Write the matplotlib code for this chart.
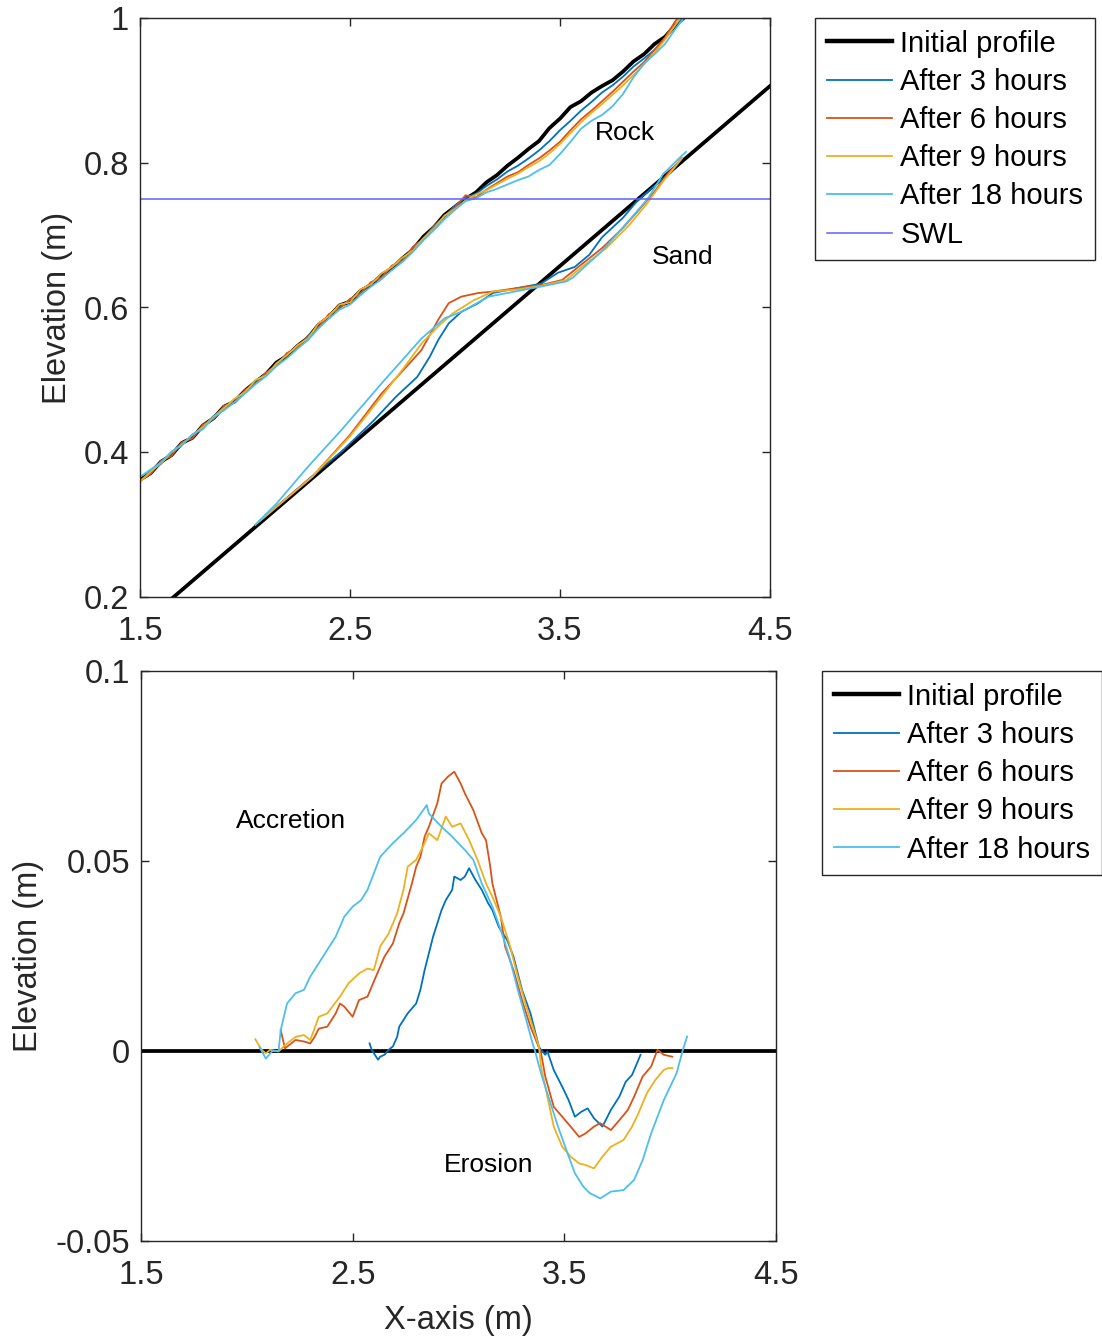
import matplotlib
matplotlib.use("Agg")
import matplotlib.pyplot as plt

plt.rcParams['font.family'] = ['Liberation Sans', 'DejaVu Sans']

# ---------------- data: top panel ----------------
rock_x = [1.50, 1.55, 1.60, 1.65, 1.70, 1.75, 1.80, 1.85, 1.90, 1.95,
          2.00, 2.05, 2.10, 2.15, 2.20, 2.25, 2.30, 2.35, 2.40, 2.45,
          2.50, 2.55, 2.60, 2.65, 2.70, 2.75, 2.80, 2.85, 2.90, 2.95,
          3.00, 3.05, 3.10, 3.15, 3.20, 3.25, 3.30, 3.35, 3.40, 3.45,
          3.50, 3.55, 3.60, 3.65, 3.70, 3.75, 3.80, 3.85, 3.90, 3.95,
          4.00, 4.05, 4.10]
rock_initial = [.362, .371, .387, .396, .413, .420, .437, .447, .463, .470,
                .485, .497, .508, .524, .533, .547, .558, .576, .587, .603,
                .608, .623, .631, .645, .654, .668, .680, .698, .711, .728,
                .739, .750, .759, .773, .783, .796, .807, .819, .830, .848,
                .861, .877, .885, .897, .906, .914, .926, .940, .950, .964,
                .974, .990, 1.003]
rock_3h = [.360, .374, .384, .399, .410, .423, .434, .450, .460, .473,
           .482, .499, .507, .521, .536, .544, .561, .573, .590, .600,
           .611, .620, .634, .642, .657, .665, .683, .695, .713, .725,
           .741, .752, .757, .768, .777, .788, .796, .806, .817, .830,
           .845, .858, .872, .884, .897, .907, .919, .933, .944, .956,
           .972, .990, 1.006]
rock_6h = [.361, .370, .388, .395, .414, .419, .438, .446, .464, .469,
           .486, .495, .510, .520, .537, .545, .560, .572, .591, .598,
           .612, .619, .635, .641, .658, .664, .684, .694, .712, .726,
           .738, .755, .752, .763, .772, .781, .787, .797, .806, .817,
           .829, .845, .860, .872, .885, .898, .912, .926, .939, .956,
           .973, .996, 1.012]
rock_9h = [.359, .373, .385, .400, .411, .424, .435, .449, .461, .474,
           .483, .500, .506, .523, .534, .548, .557, .578, .588, .604,
           .607, .625, .632, .647, .656, .669, .679, .696, .709, .727,
           .736, .748, .756, .762, .770, .778, .785, .794, .802, .813,
           .826, .841, .856, .869, .881, .894, .907, .921, .936, .952,
           .970, .991, 1.010]
rock_18h = [.366, .376, .386, .401, .410, .425, .432, .448, .458, .469,
            .481, .494, .505, .519, .530, .543, .555, .571, .585, .597,
            .604, .617, .629, .639, .652, .663, .677, .693, .707, .722,
            .735, .747, .751, .759, .764, .770, .776, .781, .790, .797,
            .812, .829, .847, .858, .866, .878, .895, .918, .937, .950,
            .964, .985, 1.004]

sand_init_x = [1.62, 4.50]
sand_init_y = [0.190, 0.906]

sand_3h_x = [2.07, 2.30, 2.46, 2.61, 2.72, 2.82, 2.88, 2.92, 2.97, 3.03, 3.11, 3.18,
             3.30, 3.41, 3.49, 3.57, 3.64, 3.70, 3.80, 3.87, 3.95, 4.03, 4.08]
sand_3h_y = [.305, .362, .401, .443, .477, .504, .532, .555, .578, .594, .606, .620,
             .627, .633, .648, .656, .673, .697, .724, .748, .768, .787, .806]
sand_6h_x = [2.07, 2.32, 2.50, 2.65, 2.74, 2.84, 2.92, 2.97, 3.03, 3.11, 3.18, 3.30,
             3.41, 3.51, 3.60, 3.70, 3.80, 3.87, 3.95, 4.01, 4.08]
sand_6h_y = [.305, .366, .424, .481, .509, .541, .583, .606, .615, .620, .622, .627,
             .631, .638, .659, .682, .710, .733, .760, .784, .806]
sand_9h_x = [2.05, 2.32, 2.50, 2.65, 2.76, 2.84, 2.92, 2.99, 3.09, 3.18, 3.30, 3.41,
             3.53, 3.60, 3.72, 3.83, 3.91, 3.99, 4.08]
sand_9h_y = [.300, .366, .422, .477, .518, .550, .574, .592, .610, .622, .625, .630,
             .638, .655, .682, .714, .742, .774, .806]
sand_18h_x = [2.05, 2.15, 2.30, 2.46, 2.65, 2.84, 2.95, 3.03, 3.16, 3.32, 3.41, 3.53,
              3.56, 3.70, 3.84, 3.92, 3.99, 4.07, 4.10]
sand_18h_y = [.300, .329, .380, .431, .495, .557, .585, .594, .615, .624, .629, .636,
              .641, .678, .724, .751, .784, .807, .815]

swl = 0.75

# ---------------- data: bottom panel (elevation change) ----------------
zero_x = [1.5, 4.5]
zero_y = [0.0, 0.0]

d3_x = [2.58, 2.59, 2.62, 2.63, 2.65, 2.67, 2.69, 2.71, 2.72, 2.76,
        2.80, 2.82, 2.84, 2.86, 2.88, 2.92, 2.94, 2.97, 2.98, 3.01,
        3.03, 3.05, 3.08, 3.11, 3.14, 3.16, 3.19, 3.23, 3.26, 3.30,
        3.34, 3.38, 3.39, 3.41, 3.42, 3.45, 3.49, 3.52, 3.55, 3.58,
        3.61, 3.64, 3.68, 3.72, 3.76, 3.79, 3.82, 3.86]
d3_y = [0.0020, 0.0003, -0.0023, -0.0015, -0.0010, 0.0003, 0.0012, 0.0037, 0.0064, 0.0099,
        0.0125, 0.0161, 0.0213, 0.0257, 0.0301, 0.0371, 0.0397, 0.0424, 0.0459, 0.0450,
        0.0459, 0.0481, 0.0450, 0.0424, 0.0389, 0.0371, 0.0327, 0.0292, 0.0248, 0.0161,
        0.0099, 0.0011, 0.0003, -0.0010, -0.0001, -0.0050, -0.0094, -0.0129, -0.0173, -0.0160,
        -0.0151, -0.0177, -0.0199, -0.0155, -0.0120, -0.0081, -0.0063, -0.0010]

d6_x = [2.16, 2.18, 2.23, 2.27, 2.30, 2.32, 2.34, 2.38, 2.42, 2.44,
        2.46, 2.50, 2.53, 2.57, 2.61, 2.65, 2.69, 2.72, 2.74, 2.78,
        2.80, 2.82, 2.84, 2.86, 2.90, 2.92, 2.95, 2.98, 3.01, 3.03,
        3.07, 3.11, 3.13, 3.15, 3.16, 3.20, 3.22, 3.26, 3.30, 3.34,
        3.38, 3.39, 3.41, 3.45, 3.49, 3.53, 3.57, 3.60, 3.64, 3.67,
        3.72, 3.76, 3.80, 3.83, 3.87, 3.91, 3.94, 3.97, 4.01]
d6_y = [0.0055, 0.0007, 0.0029, 0.0025, 0.0020, 0.0037, 0.0059, 0.0064, 0.0099, 0.0125,
        0.0117, 0.0090, 0.0134, 0.0143, 0.0196, 0.0248, 0.0283, 0.0336, 0.0362, 0.0441,
        0.0485, 0.0511, 0.0564, 0.0590, 0.0652, 0.0704, 0.0722, 0.0735, 0.0704, 0.0678,
        0.0634, 0.0573, 0.0555, 0.0485, 0.0441, 0.0353, 0.0275, 0.0213, 0.0134, 0.0064,
        0.0009, -0.0006, -0.0067, -0.0147, -0.0173, -0.0199, -0.0226, -0.0217, -0.0199, -0.0190,
        -0.0208, -0.0182, -0.0155, -0.0120, -0.0067, -0.0041, 0.0003, -0.0010, -0.0015]

d9_x = [2.04, 2.07, 2.09, 2.11, 2.15, 2.19, 2.23, 2.27, 2.30, 2.34,
        2.38, 2.44, 2.48, 2.53, 2.57, 2.60, 2.63, 2.67, 2.71, 2.74,
        2.76, 2.80, 2.84, 2.86, 2.90, 2.94, 2.97, 3.01, 3.05, 3.09,
        3.13, 3.16, 3.20, 3.24, 3.28, 3.32, 3.36, 3.38, 3.39, 3.41,
        3.45, 3.49, 3.53, 3.57, 3.60, 3.64, 3.68, 3.72, 3.78, 3.82,
        3.85, 3.89, 3.93, 3.97, 3.99, 4.01]
d9_y = [0.0031, 0.0003, -0.0006, 0.0003, -0.0001, 0.0020, 0.0037, 0.0042, 0.0029, 0.0090,
        0.0099, 0.0143, 0.0178, 0.0204, 0.0217, 0.0213, 0.0275, 0.0309, 0.0362, 0.0424,
        0.0485, 0.0503, 0.0547, 0.0573, 0.0555, 0.0617, 0.0590, 0.0599, 0.0555, 0.0503,
        0.0441, 0.0406, 0.0353, 0.0283, 0.0196, 0.0117, 0.0047, 0.0011, -0.0041, -0.0094,
        -0.0199, -0.0252, -0.0278, -0.0296, -0.0300, -0.0309, -0.0278, -0.0252, -0.0234, -0.0199,
        -0.0164, -0.0111, -0.0076, -0.0050, -0.0045, -0.0045]

d18_x = [2.06, 2.09, 2.12, 2.15, 2.16, 2.19, 2.23, 2.27, 2.30, 2.34,
         2.38, 2.42, 2.46, 2.50, 2.54, 2.57, 2.63, 2.69, 2.74, 2.80,
         2.85, 2.86, 2.92, 2.97, 3.03, 3.07, 3.11, 3.16, 3.20, 3.24,
         3.28, 3.32, 3.35, 3.36, 3.39, 3.43, 3.47, 3.51, 3.55, 3.59,
         3.62, 3.67, 3.72, 3.78, 3.83, 3.87, 3.91, 3.97, 4.03, 4.06, 4.08]
d18_y = [0.0010, -0.0020, 0.0000, 0.0000, 0.0055, 0.0125, 0.0152, 0.0161, 0.0196, 0.0231,
         0.0266, 0.0301, 0.0353, 0.0380, 0.0397, 0.0424, 0.0511, 0.0547, 0.0573, 0.0608,
         0.0647, 0.0625, 0.0590, 0.0564, 0.0529, 0.0503, 0.0441, 0.0380, 0.0318, 0.0248,
         0.0161, 0.0082, 0.0020, 0.0003, -0.0059, -0.0129, -0.0199, -0.0261, -0.0322, -0.0357,
         -0.0374, -0.0388, -0.0370, -0.0366, -0.0339, -0.0287, -0.0217, -0.0129, -0.0059, 0.0003, 0.0038]

labels = ['Initial profile', 'After 3 hours', 'After 6 hours', 'After 9 hours', 'After 18 hours']
colors = ['#000000', '#0072BD', '#D95319', '#EDB120', '#4DBEEE']
swl_color = '#5f5fff'

# ---------------- figure ----------------
W, H = 1102, 1337
fig = plt.figure(figsize=(W / 100, H / 100), dpi=100)

ax1 = fig.add_axes([140 / W, 1 - 597 / H, 630 / W, 579 / H])
ax2 = fig.add_axes([141 / W, 1 - 1241 / H, 635 / W, 570 / H])

axc = '#262626'
lw_black = 2.7
lw_col = 1.3

# top panel
ax1.plot(rock_x, rock_initial, color=colors[0], lw=lw_black, label=labels[0])
ax1.plot(sand_init_x, sand_init_y, color=colors[0], lw=lw_black)
rocks = [rock_3h, rock_6h, rock_9h, rock_18h]
sands = [(sand_3h_x, sand_3h_y), (sand_6h_x, sand_6h_y), (sand_9h_x, sand_9h_y), (sand_18h_x, sand_18h_y)]
for i in range(4):
    ax1.plot(rock_x, rocks[i], color=colors[i + 1], lw=lw_col, label=labels[i + 1])
    ax1.plot(sands[i][0], sands[i][1], color=colors[i + 1], lw=lw_col)
ax1.axhline(swl, color=swl_color, lw=1.1, label='SWL')

ax1.set_xlim(1.5, 4.5)
ax1.set_ylim(0.2, 1.0)
ax1.set_xticks([1.5, 2.5, 3.5, 4.5])
ax1.set_xticklabels(['1.5', '2.5', '3.5', '4.5'])
ax1.set_yticks([0.2, 0.4, 0.6, 0.8, 1.0])
ax1.set_yticklabels(['0.2', '0.4', '0.6', '0.8', '1'])
ax1.set_ylabel('Elevation (m)', fontsize=23.5, color=axc)
ax1.yaxis.set_label_coords(-0.107, 0.5)
ax1.text(3.81, 0.841, 'Rock', fontsize=19, ha='center', va='center')
ax1.text(4.086, 0.670, 'Sand', fontsize=19, ha='center', va='center')

# bottom panel
ax2.plot(zero_x, zero_y, color=colors[0], lw=lw_black, label=labels[0])
diffs = [(d3_x, d3_y), (d6_x, d6_y), (d9_x, d9_y), (d18_x, d18_y)]
for i in range(4):
    ax2.plot(diffs[i][0], diffs[i][1], color=colors[i + 1], lw=lw_col, label=labels[i + 1])
ax2.set_xlim(1.5, 4.5)
ax2.set_ylim(-0.05, 0.1)
ax2.set_xticks([1.5, 2.5, 3.5, 4.5])
ax2.set_xticklabels(['1.5', '2.5', '3.5', '4.5'])
ax2.set_yticks([-0.05, 0, 0.05, 0.1])
ax2.set_yticklabels(['-0.05', '0', '0.05', '0.1'])
ax2.set_ylabel('Elevation (m)', fontsize=23.5, color=axc)
ax2.yaxis.set_label_coords(-0.153, 0.5)
ax2.set_xlabel('X-axis (m)', fontsize=23.5, color=axc)
ax2.xaxis.set_label_coords(0.5, -0.113)
ax2.text(2.209, 0.0605, 'Accretion', fontsize=19, ha='center', va='center')
ax2.text(3.144, -0.030, 'Erosion', fontsize=19, ha='center', va='center')

for ax in (ax1, ax2):
    for s in ax.spines.values():
        s.set_color(axc)
        s.set_linewidth(1.0)
    ax.tick_params(direction='in', length=6, width=1.0, colors=axc, labelcolor=axc,
                   labelsize=23.5, top=True, right=True)
    ax.tick_params(axis='x', pad=14)
    ax.tick_params(axis='y', pad=8)

leg_kw = dict(loc='upper left', fontsize=21, frameon=True, fancybox=False,
              framealpha=1, edgecolor=axc, handlelength=2.25, handletextpad=0.28,
              labelspacing=0.35, borderpad=0.4, borderaxespad=0.0)
l1 = ax1.legend(bbox_to_anchor=(815 / W, 1 - 18 / H), bbox_transform=fig.transFigure, **leg_kw)
l2 = ax2.legend(bbox_to_anchor=(822 / W, 1 - 671 / H), bbox_transform=fig.transFigure, **leg_kw)
for l in (l1, l2):
    l.get_frame().set_linewidth(1.0)
    for line in l.get_lines():
        if line.get_color() == '#000000':
            line.set_linewidth(3.2)

fig.savefig('out.png', dpi=100)
